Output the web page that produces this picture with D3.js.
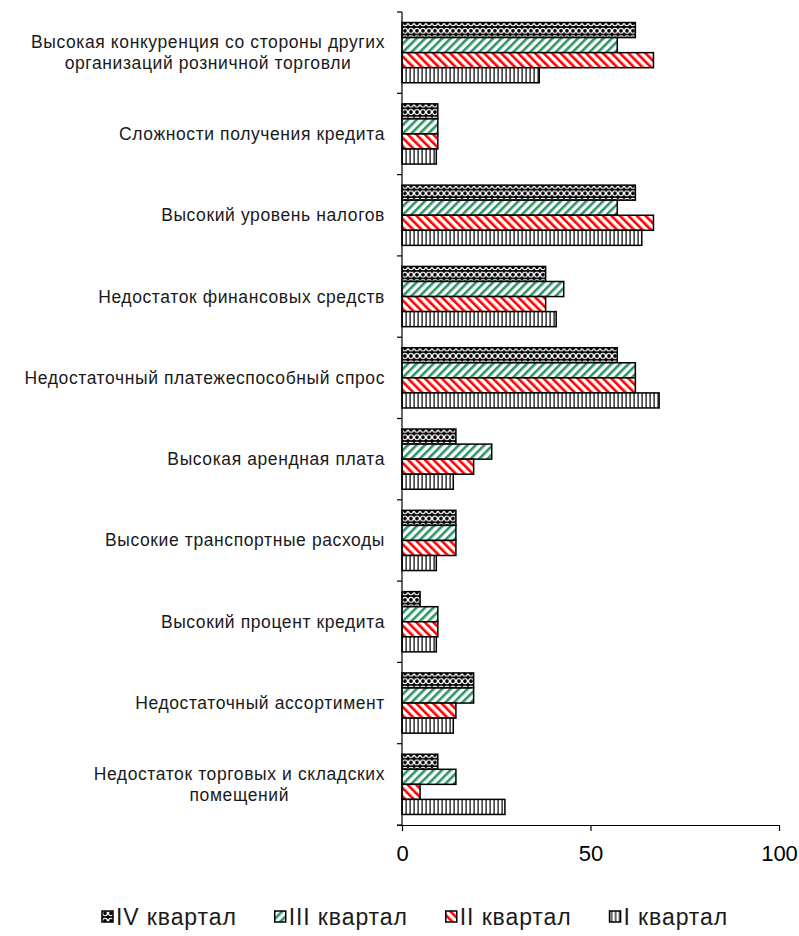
<!DOCTYPE html>
<html><head><meta charset="utf-8">
<script src="https://cdn.jsdelivr.net/npm/d3@7"></script>
<style>body{margin:0;background:#fff}svg{display:block}text{font-family:"Liberation Sans",Arial,sans-serif}</style>
</head><body><div id="chart"></div>
<script>
const categories = [
  ["Высокая конкуренция со стороны других","организаций розничной торговли"],
  ["Сложности получения кредита"],
  ["Высокий уровень налогов"],
  ["Недостаток финансовых средств"],
  ["Недостаточный платежеспособный спрос"],
  ["Высокая арендная плата"],
  ["Высокие транспортные расходы"],
  ["Высокий процент кредита"],
  ["Недостаточный ассортимент"],
  ["Недостаток торговых и складских","помещений"]
];
const seriesNames = ["IV квартал","III квартал","II квартал","I квартал"];
const q4 = [61.9, 9.5, 61.9, 38.1, 57.1, 14.3, 14.3, 4.8, 19.0, 9.5];
const q3 = [57.1, 9.5, 57.1, 42.9, 61.9, 23.8, 14.3, 9.5, 19.0, 14.3];
const q2 = [66.7, 9.5, 66.7, 38.1, 61.9, 19.0, 14.3, 9.5, 14.3, 4.8];
const q1 = [36.4, 9.1, 63.6, 40.9, 68.2, 13.6, 9.1, 9.1, 13.6, 27.3];
const xTicks = [0, 50, 100];

const W = 799, H = 936;
const svg = d3.select("#chart").append("svg").attr("width", W).attr("height", H);
const defs = svg.append("defs");

// patterns
const p4 = defs.append("pattern").attr("id","pat0").attr("patternUnits","userSpaceOnUse").attr("width",6).attr("height",7.5);
p4.append("rect").attr("width",6).attr("height",7.5).attr("fill","#000");
p4.append("circle").attr("cx",3).attr("cy",3.75).attr("r",2.5).attr("fill","none").attr("stroke","#fff").attr("stroke-width",1.3);
const p3 = defs.append("pattern").attr("id","pat1").attr("patternUnits","userSpaceOnUse").attr("width",6).attr("height",6).attr("patternTransform","rotate(45)");
p3.append("rect").attr("width",6).attr("height",6).attr("fill","#fff");
p3.append("rect").attr("width",2.6).attr("height",6).attr("fill","#2e9366");
const p2 = defs.append("pattern").attr("id","pat2").attr("patternUnits","userSpaceOnUse").attr("width",6).attr("height",6).attr("patternTransform","rotate(-45)");
p2.append("rect").attr("width",6).attr("height",6).attr("fill","#fff");
p2.append("rect").attr("width",2.6).attr("height",6).attr("fill","#ff0000");
const p1 = defs.append("pattern").attr("id","pat3").attr("patternUnits","userSpaceOnUse").attr("width",4).attr("height",4);
p1.append("rect").attr("width",4).attr("height",4).attr("fill","#fff");
p1.append("rect").attr("x",1.5).attr("width",1.2).attr("height",4).attr("fill","#000");

const data = [q4, q3, q2, q1];
const x = d3.scaleLinear().domain([0,100]).range([402, 779]);
const y0 = d3.scaleBand().domain(d3.range(categories.length)).range([12, 825]).padding(0);
const y1 = d3.scaleBand().domain(d3.range(4)).range([0, y0.bandwidth()]).paddingInner(0).paddingOuter(0.7);

const g = svg.append("g");
categories.forEach((c, i) => {
  const gg = g.append("g").attr("transform", `translate(0,${y0(i)})`);
  gg.selectAll("rect").data(data.map((s, k) => ({k, v: s[i]}))).join("rect")
    .attr("x", x(0)).attr("y", d => y1(d.k)).attr("width", d => x(d.v) - x(0))
    .attr("height", y1.bandwidth())
    .attr("fill", d => `url(#pat${d.k})`).attr("stroke", "#000").attr("stroke-width", 1.5);
});

// y axis
const yAxis = svg.append("g");
yAxis.append("line").attr("x1", x(0)).attr("x2", x(0)).attr("y1", 12).attr("y2", 825).attr("stroke","#000").attr("stroke-width",1.2);
yAxis.selectAll(".yt").data(d3.range(categories.length+1)).join("line")
  .attr("x1", x(0)-5).attr("x2", x(0)).attr("y1", i => 12 + i*y0.step()).attr("y2", i => 12 + i*y0.step())
  .attr("stroke","#000").attr("stroke-width",1.2);

// x axis
const xAxis = d3.axisBottom(x).tickValues(xTicks).tickSize(6).tickPadding(14).tickFormat(d3.format("d"));
const xa = svg.append("g").attr("transform","translate(0,825)").call(xAxis);
xa.select(".domain").attr("d", `M${x(0)-5},0.5H${x(100)}`).attr("stroke","#000").attr("stroke-width",1.2);
xa.selectAll(".tick line").attr("stroke","#000").attr("stroke-width",1.2);
xa.selectAll(".tick text").attr("font-size",22).attr("fill","#000").style("font-family","'Liberation Sans',Arial,sans-serif");

// category labels
const lh = 21;
categories.forEach((lines, i) => {
  const cy = y0(i) + y0.bandwidth()/2;
  const t = svg.append("text").attr("font-size",17.5).attr("letter-spacing",0.6).attr("fill","#1a1a1a").attr("text-anchor","middle");
  lines.forEach((ln, j) => {
    t.append("tspan").attr("x", 0).attr("y", cy + (j - (lines.length-1)/2)*lh + 6).text(ln);
  });
  const w = t.node().getBBox().width;
  t.selectAll("tspan").attr("x", 385 - w/2);
});

// legend
const lg = svg.append("g").attr("transform","translate(0,917)");
const items = lg.selectAll("g").data(seriesNames).join("g");
items.append("rect").attr("width",11).attr("height",11).attr("y",-6)
  .attr("fill",(d,k)=>`url(#pat${k})`).attr("stroke","#000").attr("stroke-width",1.5);
items.append("text").attr("x",14).attr("y",8).attr("font-size",23).attr("letter-spacing",0.9).attr("fill","#1a1a1a").text(d=>d);
const gap = 38;
const widths = [];
items.each(function(){ widths.push(this.getBBox().width); });
const total = d3.sum(widths) + gap*(widths.length-1);
let xpos = 415 - total/2;
items.each(function(d,k){ d3.select(this).attr("transform",`translate(${xpos},0)`); xpos += widths[k] + gap; });
</script></body></html>
